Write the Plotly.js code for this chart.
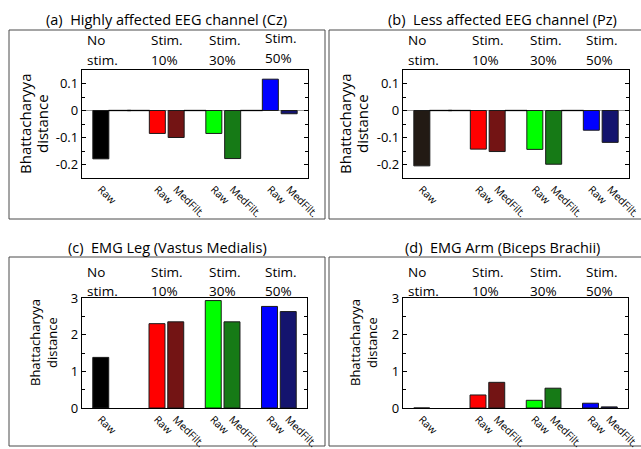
<!DOCTYPE html>
<html><head><meta charset="utf-8">
<script src="https://cdn.plot.ly/plotly-3.0.1.min.js"></script>
<style>html,body{margin:0;padding:0;background:#fff}#chart{width:641px;height:449px}</style>
</head><body><div id="chart"></div>
<script>
// ---- data ----
const slotOrder = ['No stim. Raw','No stim. MedFilt.','gap 1','Stim. 10% Raw','Stim. 10% MedFilt.','gap 2','Stim. 30% Raw','Stim. 30% MedFilt.','gap 3','Stim. 50% Raw','Stim. 50% MedFilt.'];
const barSlots = ['No stim. Raw','Stim. 10% Raw','Stim. 10% MedFilt.','Stim. 30% Raw','Stim. 30% MedFilt.','Stim. 50% Raw','Stim. 50% MedFilt.'];
const tickLabels = ['Raw','Raw','MedFilt.','Raw','MedFilt.','Raw','MedFilt.'];
const zeroSlots = ['No stim. MedFilt.','gap 1','gap 2','gap 3'];
const zeroValues = [0,0,0,0];
const groupLine1 = ['No','Stim.','Stim.','Stim.'];
const groupLine2 = ['stim.','10%','30%','50%'];
const yTitleLines = ['Bhattacharyya','distance'];
const panelTitles = ['(a)  Highly affected EEG channel (Cz)','(b)  Less affected EEG channel (Pz)','(c)  EMG Leg (Vastus Medialis)','(d)  EMG Arm (Biceps Brachii)'];
const eegCz  = [-0.179,-0.085,-0.100,-0.085,-0.178,0.116,-0.012];
const eegPz  = [-0.205,-0.143,-0.152,-0.144,-0.199,-0.073,-0.118];
const emgLeg = [1.38,2.30,2.35,2.93,2.35,2.77,2.63];
const emgArm = [0,0.355,0.70,0.21,0.54,0.13,0.03];
const eegTickVals = [-0.2,-0.1,0,0.1];
const eegTickText = ['-0.2','-0.1','0','0.1'];
const emgTickVals = [0,1,2,3];
const emgTickText = ['0','1','2','3'];
const barColors  = ['#000000','#ff0000','#731414','#00ff00','#167a16','#0000ff','#14146e'];
const barColorsB = ['#221a14','#ff0000','#731414','#00ff00','#167a16','#0000ff','#14146e'];

// ---- layout helpers (pixel -> paper) ----
const W = 641, H = 449;
const px = v => v / W;
const py = v => 1 - v / H;
const FONT = 'Open Sans, Noto Sans, sans-serif';

const panels = [
  {vals: eegCz,  colors: barColors,  area: [82,308,70,178],  box:[9,325,30,219],  range:[-0.25,0.15], tv:eegTickVals, tt:eegTickText, minor:0.05, zero:true,
   title:[166,19], ytX:[25,42], ytY:124, ytSize:15, hdrY:[40,60], hdrX:[85,149,207,263], hdrShift:[0,0,0,-2]},
  {vals: eegPz,  colors: barColorsB, area: [403,629,70,178], box:[329,660,30,219], range:[-0.25,0.15], tv:eegTickVals, tt:eegTickText, minor:0.05, zero:true,
   title:[502,19], ytX:[345,362], ytY:124, ytSize:15, hdrY:[40,60], hdrX:[406,470,528,584], hdrShift:[0,0,0,0]},
  {vals: emgLeg, colors: barColors,  area: [82,307,298,408], box:[9,325,257,446], range:[0,3], tv:emgTickVals, tt:emgTickText, minor:0.5, zero:false,
   title:[167,247], ytX:[35,52], ytY:343, ytSize:13, hdrY:[272,291], hdrX:[85,149,207,263], hdrShift:[0,0,0,0]},
  {vals: emgArm, colors: barColors,  area: [403,628,298,408], box:[329,660,257,446], range:[0,3], tv:emgTickVals, tt:emgTickText, minor:0.5, zero:false,
   title:[502,247], ytX:[355,372], ytY:343, ytSize:13, hdrY:[272,291], hdrX:[406,470,528,584], hdrShift:[0,0,0,0]}
];

const traces = [];
const layout = {
  width: W, height: H,
  margin: {l:0, r:0, t:0, b:0},
  paper_bgcolor: '#ffffff', plot_bgcolor: '#ffffff',
  showlegend: false,
  font: {family: FONT, color: '#000', size: 12},
  annotations: [], shapes: []
};

panels.forEach((p, i) => {
  const n = i === 0 ? '' : String(i + 1);
  const xa = 'x' + n, ya = 'y' + n;
  traces.push({
    type: 'bar', x: barSlots, y: p.vals, xaxis: xa, yaxis: ya, width: 0.85,
    marker: {color: p.colors, line: {color: '#1a1a1a', width: 1}},
    hoverinfo: 'x+y'
  });
  if (p.zero) {
    traces.push({
      type: 'scatter', mode: 'markers', x: zeroSlots, y: zeroValues, xaxis: xa, yaxis: ya,
      marker: {symbol: 'line-ew', size: 16, color: '#000', line: {color: '#000', width: 1.3}},
      hoverinfo: 'skip'
    });
  }
  const [l, r, t, b] = p.area;
  layout['xaxis' + n] = {
    domain: [px(l), px(r)], anchor: ya,
    type: 'category', categoryorder: 'array', categoryarray: slotOrder,
    range: [-1, 11],
    tickmode: 'array', tickvals: barSlots, ticktext: tickLabels,
    tickangle: 45, tickfont: {size: 10.5, family: FONT},
    ticks: '', showgrid: false, zeroline: false,
    showline: true, mirror: true, linecolor: '#000', linewidth: 1.2,
    fixedrange: true
  };
  layout['yaxis' + n] = {
    domain: [py(b), py(t)], anchor: xa,
    range: p.range, tickmode: 'array', tickvals: p.tv, ticktext: p.tt,
    tickfont: {size: 13, family: FONT},
    ticks: 'inside', ticklen: 4, tickcolor: '#000',
    minor: {tickmode: 'linear', tick0: 0, dtick: p.minor, ticks: 'inside', ticklen: 3, tickcolor: '#000'},
    showgrid: false,
    zeroline: p.zero, zerolinecolor: '#9a9a9a', zerolinewidth: 1,
    showline: true, mirror: 'ticks', linecolor: '#000', linewidth: 1.2,
    fixedrange: true
  };
  // panel title
  layout.annotations.push({
    xref: 'paper', yref: 'paper', x: px(p.title[0]), y: py(p.title[1]),
    xanchor: 'center', yanchor: 'middle', showarrow: false,
    text: panelTitles[i], font: {size: 14.5, family: FONT, color: '#000'}
  });
  // y axis title (two lines)
  yTitleLines.forEach((txt, j) => {
    layout.annotations.push({
      xref: 'paper', yref: 'paper', x: px(p.ytX[j]), y: py(p.ytY),
      xanchor: 'center', yanchor: 'middle', showarrow: false, textangle: -90,
      text: txt, font: {size: p.ytSize, family: FONT, color: '#000'}
    });
  });
  // group headers
  groupLine1.forEach((g, k) => {
    [groupLine1[k], groupLine2[k]].forEach((txt, j) => {
      layout.annotations.push({
        xref: 'paper', yref: 'paper', x: px(p.hdrX[k]), y: py(p.hdrY[j] + p.hdrShift[k]),
        xanchor: 'left', yanchor: 'middle', showarrow: false,
        text: txt, font: {size: 13.5, family: FONT, color: '#000'}
      });
    });
  });
  // outer panel frame
  layout.shapes.push({
    type: 'rect', xref: 'paper', yref: 'paper',
    x0: px(p.box[0]), x1: px(p.box[1]), y0: py(p.box[3]), y1: py(p.box[2]),
    line: {color: '#4a4a4a', width: 1}, fillcolor: 'rgba(0,0,0,0)', layer: 'below'
  });
});

Plotly.newPlot('chart', traces, layout, {displayModeBar: false, staticPlot: true});
</script>
</body></html>
